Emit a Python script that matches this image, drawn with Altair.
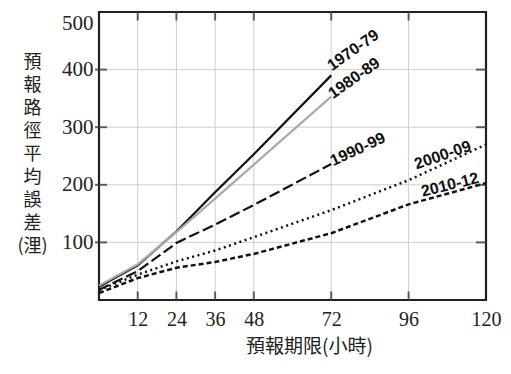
import altair as alt
import pandas as pd

# ---- data ----
series_names = ["1970-79", "1980-89", "1990-99", "2000-09", "2010-12"]
hours_short = [0, 12, 24, 36, 48, 72]
hours_long = [0, 12, 24, 36, 48, 72, 96, 120]
err_1970s = [23, 60, 119, 187, 253, 390]
err_1980s = [25, 62, 118, 176, 235, 353]
err_1990s = [18, 50, 99, 131, 165, 236]
err_2000s = [17, 44, 67, 86, 109, 156, 208, 270]
err_2010s = [12, 38, 56, 66, 80, 116, 166, 203]

x_tick_values = [12, 24, 36, 48, 72, 96, 120]
x_grid_values = [12, 24, 36, 48, 72, 96]
y_tick_values = [100, 200, 300, 400, 500]
y_grid_values = [100, 200, 300, 400]

x_title = "預報期限(小時)"
y_title_lines = ["預", "報", "路", "徑", "平", "均", "誤", "差", "(浬)"]

series_hours = [hours_short, hours_short, hours_short, hours_long, hours_long]
series_vals = [err_1970s, err_1980s, err_1990s, err_2000s, err_2010s]

rows = []
for name, hs, vs in zip(series_names, series_hours, series_vals):
    for h, v in zip(hs, vs):
        rows.append({"series": name, "hour": h, "err": v})
df = pd.DataFrame(rows)

W, H = 387, 288
xs = alt.Scale(domain=[0, 120], nice=False, zero=False)
ys = alt.Scale(domain=[0, 500], nice=False, zero=False)

SERIF = "Liberation Serif"
CJK = "Noto Sans CJK TC"

x_axis = alt.Axis(values=x_tick_values, labelFont=SERIF, labelFontSize=20,
                  labelColor="#222", tickSize=0, domain=False, grid=False,
                  labelPadding=9, title=x_title, titleFont=CJK, titleFontSize=19,
                  titleFontWeight="normal", titleColor="#222",
                  titleX=210, titleY=46, titleAlign="center", titleBaseline="middle",
                  labelFlush=False)
y_axis = alt.Axis(values=y_tick_values, labelFont=SERIF, labelFontSize=21,
                  labelColor="#222", tickSize=0, domain=False, grid=False,
                  labelPadding=6, title=y_title_lines, titleFont=CJK,
                  titleFontSize=18, titleFontWeight="normal", titleColor="#222",
                  titleAngle=0, titleAlign="center", titleBaseline="top",
                  titleX=-67, titleY=41, titleLineHeight=23, labelFlush=True)

gx_df = pd.DataFrame({"x": x_grid_values})
gy_df = pd.DataFrame({"y": y_grid_values})

grid_x = alt.Chart(gx_df).mark_rule(color="#cfcfcf", strokeWidth=1).encode(
    x=alt.X("x:Q", scale=xs, axis=x_axis))
grid_y = alt.Chart(gy_df).mark_rule(color="#cfcfcf", strokeWidth=1).encode(
    y=alt.Y("y:Q", scale=ys, axis=y_axis))

# inward ticks on the frame
tick_bottom = alt.Chart(gx_df).mark_tick(orient="vertical", size=9, thickness=2,
                                         color="#222", yOffset=-4).encode(
    x=alt.X("x:Q", scale=xs), y=alt.YDatum(0, scale=ys))
tick_top = alt.Chart(gx_df).mark_tick(orient="vertical", size=9, thickness=2,
                                      color="#222", yOffset=4).encode(
    x=alt.X("x:Q", scale=xs), y=alt.YDatum(500, scale=ys))
tick_left = alt.Chart(gy_df).mark_tick(orient="horizontal", size=12, thickness=2,
                                       color="#222", xOffset=2).encode(
    y=alt.Y("y:Q", scale=ys), x=alt.XDatum(0, scale=xs))
tick_right = alt.Chart(gy_df).mark_tick(orient="horizontal", size=10, thickness=2,
                                        color="#222", xOffset=-5).encode(
    y=alt.Y("y:Q", scale=ys), x=alt.XDatum(120, scale=xs))

styles = {
    "1970-79": dict(color="#111", strokeWidth=2.2),
    "1980-89": dict(color="#aaaaaa", strokeWidth=2.2),
    "1990-99": dict(color="#111", strokeWidth=2.2, strokeDash=[11, 4]),
    "2000-09": dict(color="#111", strokeWidth=2.5, strokeDash=[2, 3.5]),
    "2010-12": dict(color="#111", strokeWidth=2.5, strokeDash=[5, 3]),
}
label_styles = {
    "1970-79": dict(angle=325, align="left", baseline="alphabetic", dx=3, dy=-3),
    "1980-89": dict(angle=325, align="left", baseline="alphabetic", dx=0, dy=3),
    "1990-99": dict(angle=335, align="left", baseline="alphabetic", dx=1, dy=3),
    "2000-09": dict(angle=341, align="right", baseline="alphabetic", dx=-15, dy=1),
    "2010-12": dict(angle=346, align="right", baseline="alphabetic", dx=-6, dy=-2),
}

layers = [grid_x, grid_y]
for name in series_names:
    line = alt.Chart(df).transform_filter(alt.datum.series == name).mark_line(
        **styles[name]).encode(
        x=alt.X("hour:Q", scale=xs), y=alt.Y("err:Q", scale=ys))
    layers.append(line)
for name, hs in zip(series_names, series_hours):
    last = hs[-1]
    lab = alt.Chart(df).transform_filter(
        (alt.datum.series == name) & (alt.datum.hour == last)).mark_text(
        font="Liberation Sans", fontSize=16, fontWeight="bold", color="#111",
        **label_styles[name]).encode(
        x=alt.X("hour:Q", scale=xs), y=alt.Y("err:Q", scale=ys),
        text="series:N")
    layers.append(lab)
layers += [tick_bottom, tick_top, tick_left, tick_right]

chart = alt.layer(*layers).properties(
    width=W, height=H,
    autosize=alt.AutoSizeParams(type="none"),
    padding={"left": 91, "top": 4, "right": 17, "bottom": 58},
    background="white",
).configure_view(stroke="#222", strokeWidth=2.2)

chart.save("out.html", embed_options={"renderer": "svg", "actions": False})
